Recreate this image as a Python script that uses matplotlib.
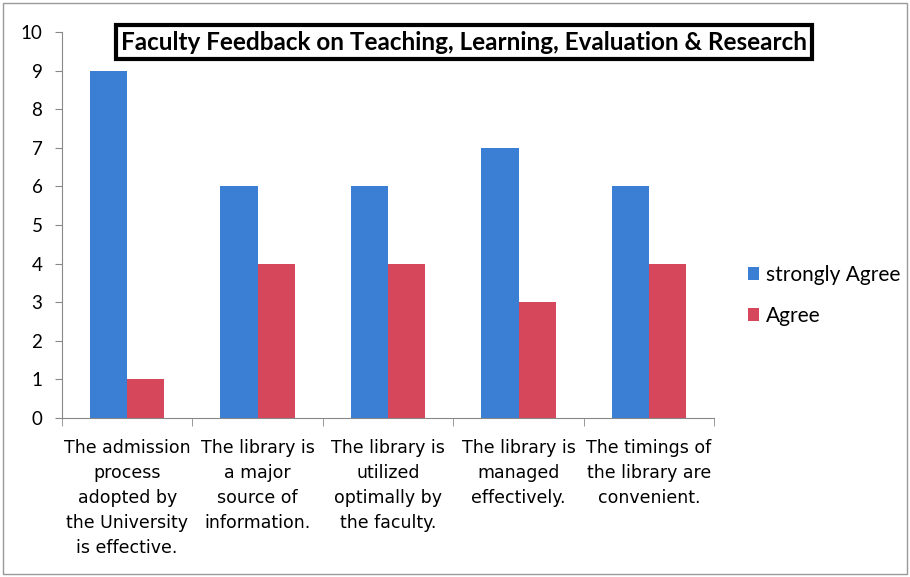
import matplotlib
matplotlib.use("Agg")
import matplotlib.pyplot as plt
import numpy as np

# --- data ---
CATEGORIES = [
    "The admission\nprocess\nadopted by\nthe University\nis effective.",
    "The library is\na major\nsource of\ninformation.",
    "The library is\nutilized\noptimally by\nthe faculty.",
    "The library is\nmanaged\neffectively.",
    "The timings of\nthe library are\nconvenient.",
]
STRONGLY_AGREE = [9, 6, 6, 7, 6]
AGREE = [1, 4, 4, 3, 4]
SERIES_NAMES = ["strongly Agree", "Agree"]
TITLE = "Faculty Feedback on Teaching, Learning, Evaluation & Research"
Y_TICKS = list(range(0, 11))

BLUE = "#3b7fd4"
RED = "#d6475b"

fig = plt.figure(figsize=(9.1, 5.77), dpi=100)
ax = fig.add_axes([0.068, 0.2756, 0.717, 0.669])

x = np.arange(len(CATEGORIES))
w = 0.285
ax.bar(x - w / 2, STRONGLY_AGREE, width=w, color=BLUE, label=SERIES_NAMES[0])
ax.bar(x + w / 2, AGREE, width=w, color=RED, label=SERIES_NAMES[1])

ax.set_xlim(-0.5, len(CATEGORIES) - 0.5)
ax.set_ylim(0, 10)
ax.set_yticks(Y_TICKS)
ax.set_yticklabels([str(t) for t in Y_TICKS], fontsize=13.5, family="Lato")

# category labels, tick marks sit between categories
ax.set_xticks(x)
ax.set_xticklabels(CATEGORIES, fontsize=12.5, family="DejaVu Sans", linespacing=1.5)
ax.tick_params(axis="x", which="major", length=0, pad=15)
ax.set_xticks(np.arange(-0.5, len(CATEGORIES)), minor=True)
ax.tick_params(axis="x", which="minor", length=6, color="#888888")
ax.tick_params(axis="y", length=5, color="#888888", pad=9)

for side in ["top", "right"]:
    ax.spines[side].set_visible(False)
for side in ["left", "bottom"]:
    ax.spines[side].set_color("#888888")

leg = fig.legend(loc="center left", bbox_to_anchor=(0.801, 0.488), frameon=False,
                 prop={"family": "Lato", "size": 15}, handlelength=0.55,
                 handleheight=0.55, handletextpad=0.35, labelspacing=1.0)

fig.text(0.51, 0.927, TITLE, ha="center", va="center", fontsize=17.5,
         fontweight="bold", family="Lato",
         bbox=dict(boxstyle="square,pad=0.22", fc="white", ec="black", lw=3))

# thin border around the whole figure
fig.patches.append(plt.Rectangle((0.003, 0.005), 0.994, 0.99, transform=fig.transFigure,
                                 fill=False, ec="#999999", lw=1))

fig.savefig("out.png", dpi=100)
